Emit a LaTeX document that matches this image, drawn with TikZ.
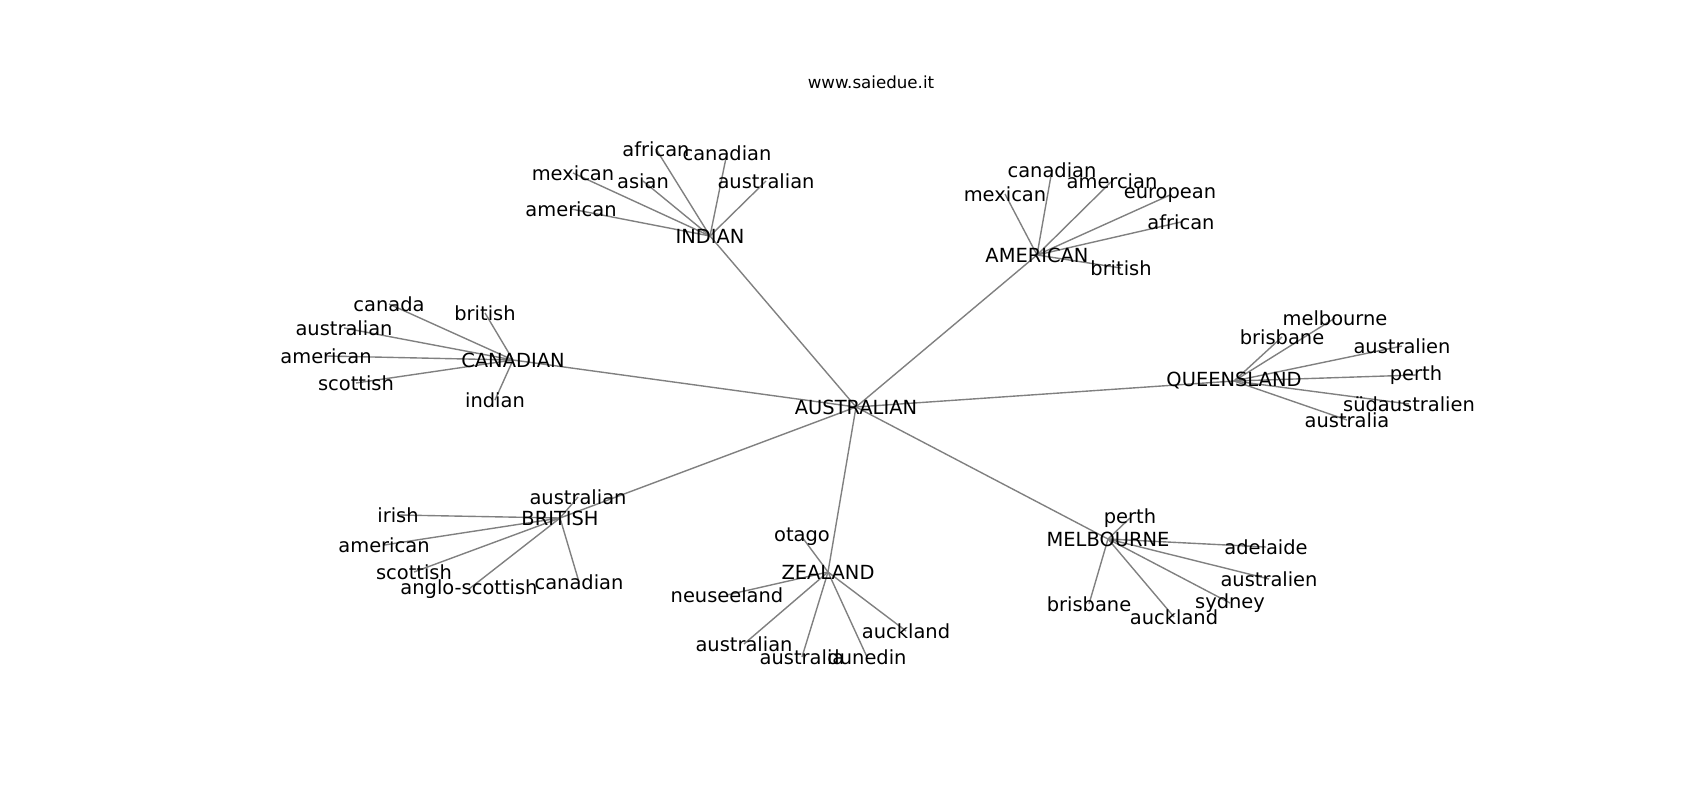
\documentclass[tikz,border=0pt]{standalone}
\usepackage{fontspec}
\setmainfont{DejaVu Sans}
\begin{document}
\begin{tikzpicture}[x=0.72pt,y=-0.72pt,
  lbl/.style={inner sep=0pt,font=\fontsize{14}{16}\selectfont},
  ttl/.style={inner sep=0pt,font=\fontsize{12}{14}\selectfont},
  edge/.style={draw=black!50,line width=1pt}]
\fill[white] (0,0) rectangle (1700,800);
\useasboundingbox (0,0) rectangle (1700,800);
\node[ttl] (title) at (871,82) {www.saiedue.it};
% hubs
\coordinate (AU) at (856,407);
\coordinate (IN) at (710,236);
\coordinate (AM) at (1037,255);
\coordinate (CA) at (513,360);
\coordinate (QU) at (1234,381);
\coordinate (BR) at (560,518);
\coordinate (ZE) at (828,572);
\coordinate (ME) at (1108,539);
% leaves
\coordinate (in1) at (656,149);
\coordinate (in2) at (727,153);
\coordinate (in3) at (573,173);
\coordinate (in4) at (643,181);
\coordinate (in5) at (766,181);
\coordinate (in6) at (571,209);
\coordinate (am1) at (1052,170);
\coordinate (am2) at (1112,181);
\coordinate (am3) at (1005,194);
\coordinate (am4) at (1170,195);
\coordinate (am5) at (1181,222);
\coordinate (am6) at (1121,268);
\coordinate (ca1) at (389,304);
\coordinate (ca2) at (485,313);
\coordinate (ca3) at (344,328);
\coordinate (ca4) at (326,356);
\coordinate (ca5) at (356,383);
\coordinate (ca6) at (495,400);
\coordinate (qu1) at (1335,318);
\coordinate (qu2) at (1282,337);
\coordinate (qu3) at (1402,346);
\coordinate (qu4) at (1416,375);
\coordinate (qu5) at (1409,404);
\coordinate (qu6) at (1347,420);
\coordinate (br1) at (578,497);
\coordinate (br2) at (398,515);
\coordinate (br3) at (384,545);
\coordinate (br4) at (414,572);
\coordinate (br5) at (469,589);
\coordinate (br6) at (579,582);
\coordinate (ze1) at (802,537);
\coordinate (ze2) at (727,595);
\coordinate (ze3) at (744,644);
\coordinate (ze4) at (802,657);
\coordinate (ze5) at (867,657);
\coordinate (ze6) at (906,631);
\coordinate (me1) at (1130,518);
\coordinate (me2) at (1266,547);
\coordinate (me3) at (1269,579);
\coordinate (me4) at (1230,603);
\coordinate (me5) at (1174,617);
\coordinate (me6) at (1089,604);
% edges
\foreach \h in {IN,AM,CA,QU,BR,ZE,ME} \draw[edge] (AU) -- (\h);
\foreach \i in {1,...,6} {
  \draw[edge] (IN) -- (in\i);
  \draw[edge] (AM) -- (am\i);
  \draw[edge] (CA) -- (ca\i);
  \draw[edge] (QU) -- (qu\i);
  \draw[edge] (BR) -- (br\i);
  \draw[edge] (ZE) -- (ze\i);
  \draw[edge] (ME) -- (me\i);
}
% labels
\node[lbl] (lAU) at (AU) {AUSTRALIAN};
\node[lbl] (lIN) at (IN) {INDIAN};
\node[lbl] (lAM) at (AM) {AMERICAN};
\node[lbl] (lCA) at (CA) {CANADIAN};
\node[lbl] (lQU) at (QU) {QUEENSLAND};
\node[lbl] (lBR) at (BR) {BRITISH};
\node[lbl] (lZE) at (ZE) {ZEALAND};
\node[lbl] (lME) at (ME) {MELBOURNE};
\node[lbl] (lin1) at (in1) {african};
\node[lbl] (lin2) at (in2) {canadian};
\node[lbl] (lin3) at (in3) {mexican};
\node[lbl] (lin4) at (in4) {asian};
\node[lbl] (lin5) at (in5) {australian};
\node[lbl] (lin6) at (in6) {american};
\node[lbl] (lam1) at (am1) {canadian};
\node[lbl] (lam2) at (am2) {amercian};
\node[lbl] (lam3) at (am3) {mexican};
\node[lbl] (lam4) at (am4) {european};
\node[lbl] (lam5) at (am5) {african};
\node[lbl] (lam6) at (am6) {british};
\node[lbl] (lca1) at (ca1) {canada};
\node[lbl] (lca2) at (ca2) {british};
\node[lbl] (lca3) at (ca3) {australian};
\node[lbl] (lca4) at (ca4) {american};
\node[lbl] (lca5) at (ca5) {scottish};
\node[lbl] (lca6) at (ca6) {indian};
\node[lbl] (lqu1) at (qu1) {melbourne};
\node[lbl] (lqu2) at (qu2) {brisbane};
\node[lbl] (lqu3) at (qu3) {australien};
\node[lbl] (lqu4) at (qu4) {perth};
\node[lbl] (lqu5) at (qu5) {südaustralien};
\node[lbl] (lqu6) at (qu6) {australia};
\node[lbl] (lbr1) at (br1) {australian};
\node[lbl] (lbr2) at (br2) {irish};
\node[lbl] (lbr3) at (br3) {american};
\node[lbl] (lbr4) at (br4) {scottish};
\node[lbl] (lbr5) at (br5) {anglo-scottish};
\node[lbl] (lbr6) at (br6) {canadian};
\node[lbl] (lze1) at (ze1) {otago};
\node[lbl] (lze2) at (ze2) {neuseeland};
\node[lbl] (lze3) at (ze3) {australian};
\node[lbl] (lze4) at (ze4) {australia};
\node[lbl] (lze5) at (ze5) {dunedin};
\node[lbl] (lze6) at (ze6) {auckland};
\node[lbl] (lme1) at (me1) {perth};
\node[lbl] (lme2) at (me2) {adelaide};
\node[lbl] (lme3) at (me3) {australien};
\node[lbl] (lme4) at (me4) {sydney};
\node[lbl] (lme5) at (me5) {auckland};
\node[lbl] (lme6) at (me6) {brisbane};
\end{tikzpicture}
\end{document}
